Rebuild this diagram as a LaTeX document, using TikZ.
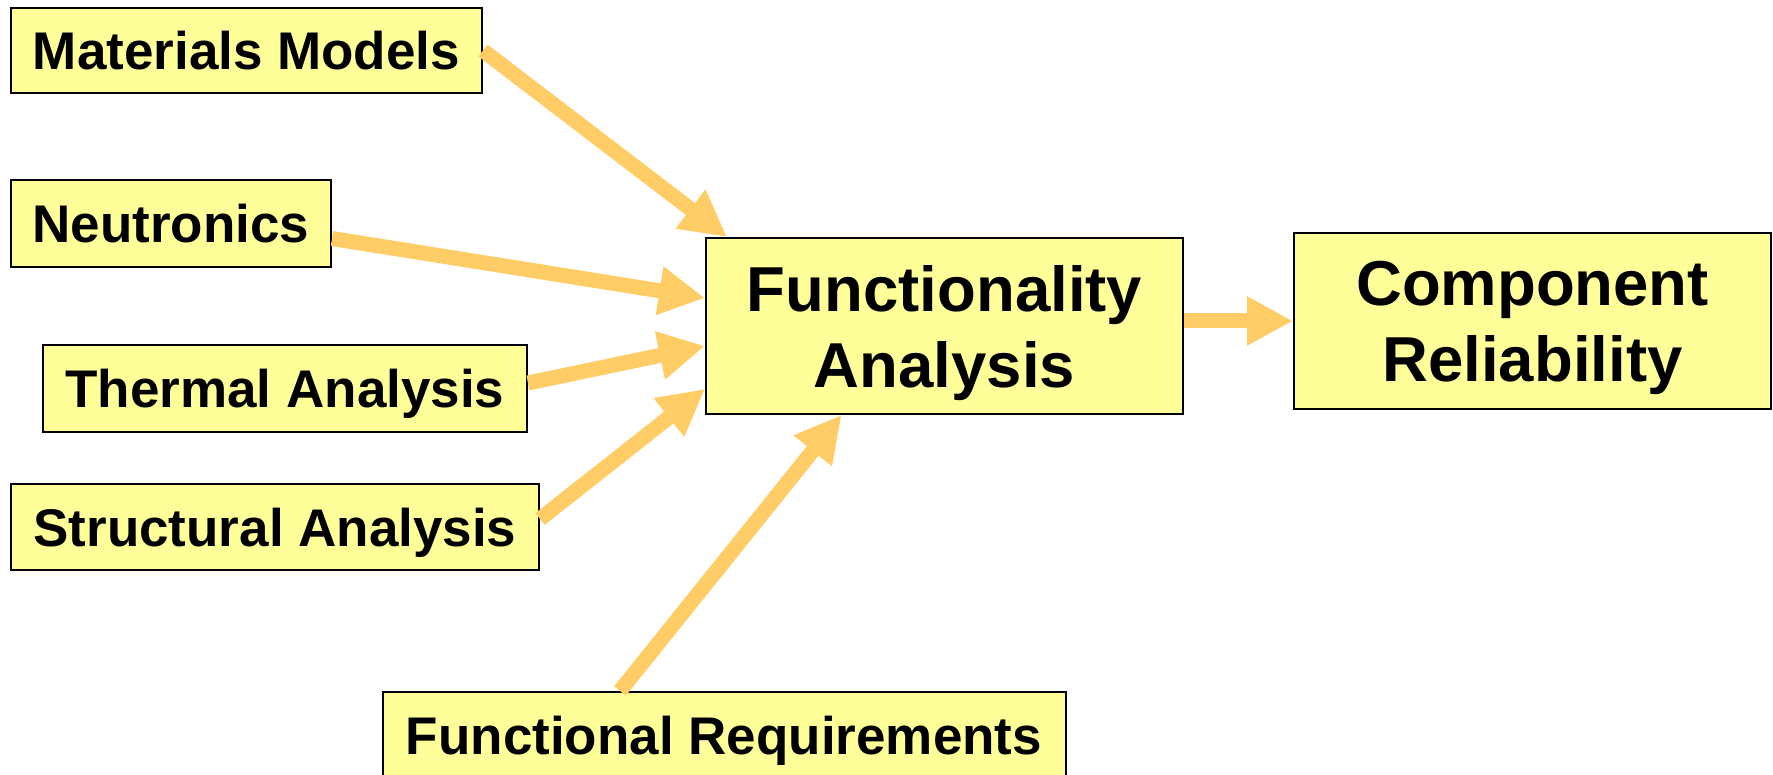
\documentclass[tikz,border=0pt]{standalone}
\usepackage{fontspec}
\setmainfont{Liberation Sans}
\usetikzlibrary{arrows.meta,calc}
\definecolor{boxfill}{HTML}{FFFF99}
\definecolor{arrowc}{HTML}{FFCC66}
\begin{document}
\begin{tikzpicture}[x=1pt,y=-1pt,
  box/.style={draw=black,line width=2pt,fill=boxfill,inner sep=0pt,
    font=\bfseries\fontsize{53}{60}\selectfont,text height=38pt,text depth=0pt},
  bigbox/.style={draw=black,line width=2pt,fill=boxfill,inner sep=0pt,align=center,
    font=\bfseries\fontsize{63.5}{76}\selectfont,text depth=0pt,
    minimum width=477pt,minimum height=176pt},
  flow/.style={draw=arrowc,line width=15pt,-{Triangle[length=46pt,width=46pt]}}]
\useasboundingbox (0,0) rectangle (1773,775);
\clip (0,0) rectangle (1773,775);
\node[box,minimum width=471pt,minimum height=85pt] (mm) at (246.5,50.5) {Materials Models};
\node[box,minimum width=320pt,minimum height=87pt] (neu) at (171,223.5) {Neutronics};
\node[box,minimum width=484pt,minimum height=87pt] (th) at (285,389) {Thermal Analysis};
\node[box,minimum width=528pt,minimum height=86pt] (st) at (275,527) {Structural Analysis};
\node[box,minimum width=683pt,minimum height=86pt] (fr) at (724,735) {Functional Requirements};
\node[bigbox] (fa) at (944.5,326) {Functionality\\Analysis};
\node[bigbox] (cr) at (1532.5,321) {Component\\Reliability};
\draw[flow] (mm.east) -- ($(fa.north west)+(22,0)$);
\draw[flow] ($(neu.east)+(0,15)$) -- ($(fa.west)+(0,-28)$);
\draw[flow] ($(th.east)+(0,-6)$) -- ($(fa.west)+(0,20)$);
\draw[flow] ($(st.east)+(0,-8)$) -- ($(fa.west)+(0,63)$);
\draw[flow] ($(fr.north)+(-104,0)$) -- ($(fa.south)+(-103,0)$);
\draw[flow] (cr.west -| fa.east) -- (cr.west);
\end{tikzpicture}
\end{document}
